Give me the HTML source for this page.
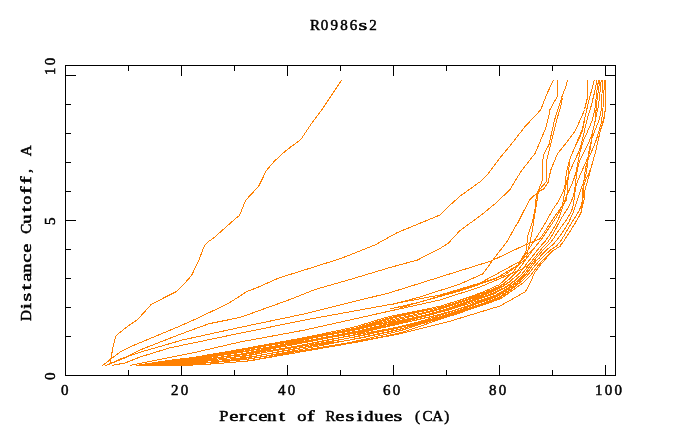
<!DOCTYPE html>
<html><head><meta charset="utf-8">
<style>
html,body{margin:0;padding:0;background:#fff;width:680px;height:440px;overflow:hidden}
.t{position:absolute;font-family:"Liberation Serif",serif;font-weight:normal;-webkit-text-stroke:0.5px #000;font-size:15px;line-height:16px;color:#000;white-space:pre;filter:grayscale(1)}
.t i{font-style:normal;display:inline-block;width:9.7px;text-align:center}
.r{transform:rotate(-90deg);transform-origin:0 0}
svg{position:absolute;left:0;top:0}
</style></head><body>
<svg width="680" height="440" viewBox="0 0 680 440" shape-rendering="crispEdges">
<g stroke="#000" stroke-width="1" fill="none">
<rect x="65.5" y="65.5" width="550" height="310"/>
<path d="M65 75.5H76M65 220.5H76M65 104.5H71M65 133.5H71M65 162.5H71M65 191.5H71M65 249.5H71M65 278.5H71M65 307.5H71M65 336.5H71"/>
<path d="M616 75.5H605M616 220.5H605M616 104.5H610M616 133.5H610M616 162.5H610M616 191.5H610M616 249.5H610M616 278.5H610M616 307.5H610M616 336.5H610"/>
<path d="M181.5 375V365M287.5 375V365M393.5 375V365M499.5 375V365M605.5 375V365M128.5 375V370M234.5 375V370M340.5 375V370M446.5 375V370M552.5 375V370"/>
<path d="M181.5 65V76M287.5 65V76M393.5 65V76M499.5 65V76M605.5 65V76M128.5 65V71M234.5 65V71M340.5 65V71M446.5 65V71M552.5 65V71"/>
</g>
<g stroke="#ff8000" stroke-width="1" fill="none" id="curves">
<path d="M109.8 365.4 L110.8 358.7 L113.4 345.4 L115.4 337.3 L117.0 334.7 L128.7 325.5 L137.0 320.0 L143.2 313.4 L151.5 304.1 L159.7 300.0 L176.4 291.5 L184.5 283.6 L191.5 275.5 L198.2 261.8 L204.5 245.5 L208.2 241.8 L214.5 237.3 L222.7 230.0 L235.1 218.9 L239.5 215.6 L245.5 200.5 L252.4 193.0 L258.9 185.8 L266.5 170.3 L274.0 161.6 L282.7 153.4 L291.3 146.5 L300.6 139.8 L311.6 123.4 L320.4 111.8 L329.3 98.6 L341.7 80.0"/>
<path d="M102.0 365.9 L109.3 360.3 L120.6 351.6 L129.8 347.0 L141.2 342.2 L178.2 326.8 L193.6 320.0 L228.2 303.6 L246.4 291.8 L260.0 286.4 L280.0 277.5 L290.0 274.5 L340.0 258.8 L375.0 245.0 L397.5 232.5 L425.0 221.2 L440.0 215.0 L448.8 206.2 L460.0 196.2 L480.0 181.8 L488.2 173.6 L500.5 157.3 L510.7 145.0 L525.0 126.6 L536.4 114.5 L540.9 109.5 L546.8 94.1 L553.5 80.0"/>
<path d="M105.2 365.7 L125.0 357.8 L140.0 350.0 L178.2 335.0 L209.1 323.7 L240.0 317.5 L290.0 299.5 L315.0 289.5 L352.5 278.8 L390.0 267.5 L417.5 260.0 L440.0 248.4 L448.0 243.6 L460.0 230.5 L481.3 215.0 L495.0 203.8 L509.7 190.0 L520.9 171.6 L535.2 153.2 L545.5 128.6 L549.1 115.0 L550.0 109.5 L557.3 96.4 L557.3 80.0"/>
<path d="M105.5 365.7 L120.6 358.9 L141.2 351.9 L182.4 340.0 L240.0 327.4 L305.0 313.8 L340.0 305.0 L390.0 292.7 L440.0 277.0 L490.9 261.1 L521.1 246.8 L540.0 238.8 L554.7 216.5 L566.6 199.8 L569.5 160.0 L582.0 130.0 L589.0 100.0 L594.4 80.0"/>
<path d="M111.9 365.4 L125.0 363.0 L140.0 357.0 L170.0 347.8 L240.0 333.2 L305.0 320.0 L390.0 304.5 L440.0 295.0 L480.0 283.0 L518.9 262.0 L535.0 248.0"/>
<path d="M130.0 365.4 L140.0 363.5 L195.0 352.4 L240.0 342.0 L305.0 330.0 L390.0 311.0 L440.0 300.0 L480.0 287.0 L520.0 270.0 L540.0 258.0"/>
<path d="M567.5 80.0 L565.5 87.7 L562.5 95.0 L559.0 106.4 L554.5 120.0 L548.9 145.0 L543.2 155.2 L542.0 181.4 L536.4 195.0 L534.9 210.2 L532.5 222.0 L528.2 234.0 L525.9 251.6 L518.0 265.0 L495.0 279.0 L460.0 291.0 L420.0 302.0 L390.0 309.0"/>
<path d="M562.3 97.7 L561.4 104.0 L558.0 115.5 L553.4 133.6 L546.6 161.0 L546.6 181.4 L538.6 190.5 L531.4 235.7 L526.0 259.0 L505.0 275.0 L470.0 287.0 L430.0 299.0 L400.0 308.0"/>
<path d="M587.5 80.0 L587.5 97.7 L584.5 109.5 L582.5 115.0 L575.0 131.2 L562.4 147.8 L557.7 153.2 L550.8 170.0 L547.9 183.0 L543.7 188.9 L539.0 191.3 L534.3 195.4 L529.6 200.1 L523.6 211.4 L518.3 222.0 L514.7 227.7 L506.8 242.0 L495.6 256.3 L482.9 273.8 L460.0 284.0 L420.0 297.0 L390.0 305.0"/>
<path d="M136.0 365.5 L182.0 365.6 L215.0 363.8 L250.0 360.8 L305.0 351.2 L355.0 342.5 L400.0 333.8 L450.0 321.2 L500.0 306.0 L525.4 291.7 L531.0 281.3 L534.2 273.4 L541.3 263.8 L552.5 251.1 L560.5 246.0 L568.6 233.7 L575.5 222.7 L580.9 213.2 L584.0 200.0 L585.0 190.0 L590.0 172.0 L595.5 152.0 L600.0 132.0 L603.5 122.0 L605.6 108.0 L605.6 80.0"/>
<path d="M136.0 365.5 L142.7 364.4 L149.4 363.4 L156.1 362.3 L162.8 361.3 L169.5 360.3 L176.2 359.5 L182.9 358.7 L189.7 358.0 L196.4 357.1 L203.1 356.1 L209.8 355.0 L216.5 353.9 L223.1 352.7 L229.8 351.5 L236.5 350.4 L243.1 349.1 L249.7 347.8 L256.3 346.5 L262.9 345.2 L269.6 344.0 L276.2 342.8 L282.9 341.5 L289.5 340.3 L296.2 339.1 L302.9 337.9 L309.5 336.6 L316.1 335.2 L322.7 333.8 L329.4 332.4 L336.0 331.0 L342.6 329.6 L349.2 328.2 L355.8 326.7 L362.3 324.7 L368.7 322.7 L375.2 320.7 L381.7 318.7 L388.3 316.8 L395.0 315.4 L401.8 314.1 L408.6 312.8 L415.3 311.4 L422.1 310.1 L428.8 308.7 L435.5 307.2 L442.2 305.7 L448.7 303.6 L455.2 301.5 L461.7 299.4 L468.1 297.2 L474.4 295.1 L480.7 292.9 L486.9 290.3 L492.9 287.5 L498.9 284.9 L504.0 280.7 L508.7 276.0 L513.6 271.4 L517.7 266.0 L521.4 260.4 L525.2 254.8 L528.8 249.1 L532.5 243.4 L536.2 237.7 L539.8 232.0 L543.4 226.2 L546.8 220.4 L550.0 214.5 L553.4 208.6 L557.4 202.8 L560.8 196.8 L563.5 190.6 L565.2 184.0 L565.9 177.1 L566.8 170.4 L568.5 163.8 L570.6 157.4 L573.2 151.1 L575.8 144.9 L578.9 138.8 L581.8 132.6 L583.5 126.0 L584.6 119.4 L586.0 112.8 L587.6 106.2 L589.1 99.6 L590.9 93.1 L592.6 86.5 L594.4 80.0"/>
<path d="M136.0 365.5 L142.7 364.5 L149.4 363.4 L156.1 362.4 L162.8 361.4 L169.5 360.3 L176.2 359.5 L182.9 358.7 L189.6 357.9 L196.3 357.0 L203.0 355.8 L209.6 354.5 L216.3 353.4 L222.9 352.3 L229.6 351.2 L236.3 350.0 L243.0 348.9 L249.6 347.6 L256.3 346.4 L262.9 345.2 L269.6 344.0 L276.3 342.9 L283.1 341.8 L289.8 340.8 L296.6 339.7 L303.3 338.6 L310.1 337.3 L316.8 336.1 L323.5 334.7 L330.1 333.4 L336.8 332.0 L343.4 330.7 L350.1 329.2 L356.7 327.8 L363.2 325.8 L369.7 323.8 L376.2 321.8 L382.7 319.9 L389.2 317.9 L395.8 316.2 L402.4 314.7 L409.1 313.3 L415.7 311.8 L422.3 310.3 L428.9 308.8 L435.6 307.2 L442.2 305.7 L448.7 303.6 L455.3 301.6 L462.0 299.6 L468.6 297.6 L475.3 295.6 L481.9 293.5 L488.4 291.1 L494.7 288.4 L500.9 285.6 L506.3 281.5 L511.4 277.0 L516.3 272.3 L520.5 266.9 L524.5 261.3 L528.5 255.8 L532.6 250.3 L536.8 244.9 L541.1 239.7 L545.0 234.1 L548.8 228.4 L552.7 222.7 L556.5 216.9 L560.0 210.9 L562.5 204.6 L563.7 197.8 L564.8 191.0 L566.1 184.3 L567.7 177.7 L570.0 171.3 L572.7 165.0 L575.6 158.7 L578.5 152.4 L580.7 146.0 L582.4 139.5 L584.0 132.9 L585.4 126.4 L587.0 119.7 L588.9 113.2 L591.0 106.6 L592.7 99.9 L594.3 93.3 L595.7 86.7 L597.0 80.0"/>
<path d="M136.0 365.5 L142.7 364.5 L149.4 363.5 L156.1 362.4 L162.8 361.4 L169.5 360.5 L176.3 359.7 L183.0 359.0 L189.8 358.3 L196.6 357.6 L203.3 356.6 L210.0 355.6 L216.7 354.4 L223.4 353.3 L230.1 352.1 L236.7 350.8 L243.3 349.5 L249.9 348.2 L256.5 346.8 L263.1 345.5 L269.7 344.2 L276.3 342.9 L283.0 341.7 L289.7 340.6 L296.4 339.5 L303.2 338.4 L310.0 337.2 L316.7 336.0 L323.5 334.8 L330.3 333.6 L337.0 332.3 L343.8 331.1 L350.5 329.7 L357.2 328.3 L363.7 326.4 L370.3 324.5 L376.8 322.6 L383.4 320.7 L389.9 318.7 L396.5 317.1 L403.2 315.6 L409.9 314.1 L416.5 312.6 L423.2 311.1 L429.9 309.6 L436.6 308.1 L443.4 306.5 L450.0 304.5 L456.7 302.5 L463.4 300.5 L470.0 298.4 L476.6 296.3 L483.1 294.2 L489.3 291.6 L495.3 288.7 L501.3 285.7 L506.6 281.6 L511.5 277.0 L516.4 272.3 L520.5 266.9 L524.5 261.3 L528.5 255.8 L532.6 250.3 L536.8 244.9 L541.1 239.7 L545.0 234.1 L548.8 228.4 L552.7 222.7 L556.5 216.9 L560.0 210.9 L562.5 204.6 L563.7 197.8 L564.8 191.0 L566.1 184.3 L567.7 177.7 L570.0 171.3 L572.7 165.0 L575.6 158.7 L578.5 152.4 L580.7 146.0 L582.4 139.5 L584.0 132.9 L585.4 126.4 L587.0 119.7 L588.9 113.2 L591.0 106.6 L592.7 99.9 L594.3 93.3 L595.7 86.7 L597.0 80.0"/>
<path d="M136.0 365.5 L142.7 364.5 L149.4 363.5 L156.1 362.6 L162.8 361.6 L169.6 360.5 L176.3 359.7 L183.0 358.9 L189.7 358.1 L196.5 357.3 L203.1 356.2 L209.8 355.1 L216.5 354.0 L223.3 353.0 L230.0 351.9 L236.7 350.9 L243.4 349.9 L250.2 348.7 L256.9 347.6 L263.6 346.5 L270.4 345.3 L277.1 344.2 L283.8 343.1 L290.6 341.9 L297.3 340.8 L304.1 339.6 L310.8 338.3 L317.5 337.0 L324.2 335.7 L330.9 334.3 L337.5 333.0 L344.2 331.6 L350.9 330.2 L357.6 328.8 L364.2 326.9 L370.8 325.2 L377.5 323.4 L384.2 321.7 L390.9 319.9 L397.7 318.4 L404.5 316.9 L411.2 315.4 L417.9 313.9 L424.6 312.3 L431.2 310.7 L437.8 309.0 L444.3 307.2 L450.8 305.1 L457.3 302.9 L463.8 300.8 L470.3 298.7 L476.9 296.6 L483.6 294.5 L490.1 292.0 L496.5 289.2 L502.8 286.3 L508.5 282.3 L514.0 277.9 L519.2 273.3 L523.6 267.9 L527.7 262.3 L532.0 256.9 L536.3 251.5 L540.6 246.2 L545.1 241.3 L549.0 235.7 L552.7 229.9 L556.1 223.9 L558.9 217.7 L561.3 211.4 L563.4 204.9 L565.5 198.4 L568.3 192.2 L571.1 185.9 L573.7 179.5 L575.8 173.0 L577.3 166.2 L578.5 159.5 L579.9 152.8 L581.6 146.2 L583.8 139.8 L586.7 133.4 L589.5 127.0 L592.1 120.5 L593.9 113.8 L595.2 107.1 L595.9 100.2 L596.6 93.5 L597.5 86.7 L598.6 80.0"/>
<path d="M136.0 365.5 L142.7 364.6 L149.5 363.7 L156.2 362.8 L163.0 361.9 L169.7 361.0 L176.5 360.3 L183.3 359.7 L190.1 358.9 L196.8 358.1 L203.5 357.1 L210.2 356.0 L216.9 354.8 L223.6 353.7 L230.3 352.5 L236.9 351.3 L243.6 350.1 L250.2 348.9 L256.9 347.6 L263.6 346.3 L270.2 345.1 L276.9 343.9 L283.7 342.8 L290.4 341.6 L297.2 340.5 L303.9 339.4 L310.7 338.2 L317.5 337.0 L324.2 335.7 L331.0 334.5 L337.8 333.3 L344.5 332.0 L351.3 330.7 L358.1 329.4 L364.8 327.7 L371.5 326.0 L378.3 324.3 L385.1 322.7 L391.8 321.0 L398.6 319.4 L405.4 317.9 L412.1 316.4 L418.8 314.8 L425.5 313.1 L432.1 311.4 L438.6 309.6 L445.1 307.8 L451.6 305.6 L458.0 303.4 L464.5 301.3 L471.1 299.1 L477.7 297.0 L484.3 294.9 L490.8 292.4 L497.0 289.4 L503.3 286.5 L508.9 282.4 L514.2 278.0 L519.3 273.3 L523.6 267.9 L527.7 262.3 L532.0 256.9 L536.3 251.5 L540.6 246.2 L545.1 241.3 L549.0 235.7 L552.7 229.9 L556.1 223.9 L558.9 217.7 L561.3 211.4 L563.4 204.9 L565.5 198.4 L568.3 192.2 L571.1 185.9 L573.7 179.5 L575.8 173.0 L577.3 166.2 L578.5 159.5 L579.9 152.8 L581.6 146.2 L583.8 139.8 L586.7 133.4 L589.5 127.0 L592.1 120.5 L593.9 113.8 L595.2 107.1 L595.9 100.2 L596.6 93.5 L597.5 86.7 L598.6 80.0"/>
<path d="M136.0 365.5 L142.8 364.6 L149.5 363.8 L156.3 362.9 L163.0 362.0 L169.7 361.0 L176.5 360.3 L183.2 359.6 L190.0 358.8 L196.8 358.0 L203.5 357.0 L210.3 356.1 L217.1 355.2 L223.9 354.3 L230.7 353.4 L237.5 352.6 L244.3 351.6 L251.1 350.5 L257.8 349.3 L264.5 348.1 L271.2 346.8 L277.9 345.5 L284.5 344.2 L291.2 342.8 L297.8 341.4 L304.3 340.0 L310.9 338.5 L317.5 337.0 L324.1 335.6 L330.8 334.2 L337.4 332.8 L344.1 331.5 L350.9 330.3 L357.8 329.1 L364.6 327.5 L371.5 326.0 L378.5 324.6 L385.5 323.3 L392.6 321.9 L399.6 320.5 L406.6 319.2 L413.5 317.7 L420.3 316.1 L427.0 314.5 L433.6 312.7 L440.1 310.8 L446.5 308.9 L452.9 306.6 L459.2 304.3 L465.7 302.0 L472.3 299.8 L478.9 297.7 L485.7 295.7 L492.4 293.3 L498.9 290.3 L505.3 287.2 L511.1 283.2 L516.7 278.9 L521.8 274.1 L526.1 268.7 L530.2 263.1 L534.4 257.7 L538.7 252.4 L543.0 247.1 L547.7 242.3 L551.4 236.6 L554.8 230.7 L558.0 224.6 L561.2 218.6 L564.9 212.7 L568.7 206.8 L571.7 200.5 L573.9 194.0 L575.0 187.1 L575.9 180.2 L576.8 173.3 L578.1 166.4 L580.1 159.9 L583.1 153.6 L586.4 147.3 L589.4 140.9 L591.9 134.4 L593.6 127.7 L595.0 120.9 L595.6 114.1 L596.4 107.2 L597.0 100.4 L597.9 93.6 L598.9 86.8 L599.8 80.0"/>
<path d="M136.0 365.5 L142.8 364.7 L149.5 363.9 L156.3 363.0 L163.1 362.2 L169.8 361.3 L176.6 360.7 L183.4 360.0 L190.2 359.2 L196.9 358.4 L203.7 357.4 L210.4 356.3 L217.1 355.3 L223.9 354.3 L230.6 353.3 L237.4 352.3 L244.1 351.2 L250.9 350.1 L257.6 348.9 L264.4 347.8 L271.1 346.6 L277.9 345.5 L284.7 344.4 L291.5 343.2 L298.2 342.1 L305.0 341.0 L311.8 339.8 L318.6 338.5 L325.3 337.2 L332.1 335.9 L338.9 334.7 L345.6 333.4 L352.4 332.0 L359.2 330.7 L365.9 329.0 L372.7 327.4 L379.6 325.9 L386.5 324.3 L393.3 322.8 L400.2 321.2 L407.1 319.8 L414.0 318.2 L420.8 316.6 L427.5 314.9 L434.2 313.1 L440.7 311.3 L447.3 309.4 L453.7 307.2 L460.2 304.9 L466.6 302.6 L473.2 300.4 L479.7 298.2 L486.4 296.0 L492.9 293.6 L499.2 290.4 L505.4 287.2 L511.2 283.2 L516.7 278.9 L521.8 274.1 L526.1 268.7 L530.2 263.1 L534.4 257.7 L538.7 252.4 L543.0 247.1 L547.7 242.3 L551.4 236.6 L554.8 230.7 L558.0 224.6 L561.2 218.6 L564.9 212.7 L568.7 206.8 L571.7 200.5 L573.9 194.0 L575.0 187.1 L575.9 180.2 L576.8 173.3 L578.1 166.4 L580.1 159.9 L583.1 153.6 L586.4 147.3 L589.4 140.9 L591.9 134.4 L593.6 127.7 L595.0 120.9 L595.6 114.1 L596.4 107.2 L597.0 100.4 L597.9 93.6 L598.9 86.8 L599.8 80.0"/>
<path d="M136.0 365.5 L142.8 364.7 L149.6 364.0 L156.4 363.3 L163.2 362.5 L170.0 361.8 L176.8 361.3 L183.6 360.6 L190.5 359.9 L197.3 359.2 L204.0 358.2 L210.8 357.2 L217.5 356.1 L224.2 355.0 L230.9 354.0 L237.7 352.9 L244.4 351.8 L251.1 350.6 L257.9 349.4 L264.6 348.2 L271.4 347.0 L278.1 345.9 L284.9 344.8 L291.7 343.7 L298.6 342.6 L305.4 341.5 L312.2 340.3 L319.0 339.1 L325.8 337.9 L332.7 336.6 L339.4 335.4 L346.2 334.1 L353.0 332.8 L359.8 331.4 L366.5 329.7 L373.3 328.1 L380.1 326.5 L386.9 324.9 L393.7 323.2 L400.5 321.6 L407.3 320.0 L414.1 318.4 L420.9 316.7 L427.6 315.0 L434.2 313.2 L440.8 311.4 L447.4 309.5 L453.9 307.4 L460.5 305.1 L467.1 302.9 L473.7 300.7 L480.4 298.6 L487.1 296.4 L493.6 294.0 L499.8 290.7 L506.0 287.4 L511.6 283.4 L517.0 279.0 L522.0 274.2 L526.2 268.7 L530.2 263.1 L534.4 257.7 L538.7 252.4 L543.0 247.1 L547.7 242.3 L551.4 236.6 L554.8 230.7 L558.0 224.6 L561.2 218.6 L564.9 212.7 L568.7 206.8 L571.7 200.5 L573.9 194.0 L575.0 187.1 L575.9 180.2 L576.8 173.3 L578.1 166.4 L580.1 159.9 L583.1 153.6 L586.4 147.3 L589.4 140.9 L591.9 134.4 L593.6 127.7 L595.0 120.9 L595.6 114.1 L596.4 107.2 L597.0 100.4 L597.9 93.6 L598.9 86.8 L599.8 80.0"/>
<path d="M136.0 365.5 L142.8 364.8 L149.6 364.1 L156.4 363.4 L163.2 362.7 L170.1 362.0 L176.9 361.5 L183.8 361.0 L190.6 360.4 L197.5 359.8 L204.4 359.0 L211.2 358.3 L218.0 357.4 L224.8 356.4 L231.6 355.4 L238.4 354.4 L245.1 353.2 L251.8 351.9 L258.5 350.5 L265.1 349.1 L271.8 347.8 L278.5 346.5 L285.2 345.2 L292.0 344.0 L298.7 342.8 L305.5 341.7 L312.4 340.5 L319.2 339.3 L326.1 338.2 L333.0 337.0 L339.8 335.9 L346.7 334.7 L353.5 333.4 L360.4 332.1 L367.2 330.5 L374.0 329.0 L380.9 327.4 L387.7 325.8 L394.4 324.1 L401.2 322.4 L408.0 320.7 L414.7 319.0 L421.4 317.2 L428.1 315.5 L434.8 313.7 L441.5 311.9 L448.2 310.1 L454.9 308.0 L461.6 305.9 L468.4 303.8 L475.3 301.7 L482.1 299.6 L489.0 297.5 L495.7 295.1 L501.8 291.6 L507.8 288.1 L513.4 284.0 L518.9 279.7 L523.7 274.8 L527.9 269.2 L531.8 263.6 L536.1 258.2 L540.5 253.0 L545.0 247.8 L550.0 243.2 L554.0 237.7 L557.8 231.9 L561.9 226.1 L566.0 220.4 L569.8 214.4 L572.6 208.1 L573.9 201.2 L574.7 194.3 L575.7 187.4 L577.7 180.8 L580.4 174.3 L583.3 167.9 L586.2 161.5 L588.7 154.9 L590.4 148.2 L591.5 141.3 L592.3 134.4 L593.5 127.7 L595.2 121.0 L596.6 114.2 L598.2 107.4 L599.1 100.6 L599.9 93.7 L600.5 86.9 L601.2 80.0"/>
<path d="M136.0 365.5 L142.8 364.9 L149.7 364.3 L156.5 363.6 L163.4 363.0 L170.2 362.5 L177.1 362.0 L184.0 361.5 L190.9 360.9 L197.7 360.3 L204.6 359.5 L211.4 358.7 L218.2 357.8 L225.0 356.8 L231.8 355.9 L238.6 354.9 L245.4 353.9 L252.2 352.6 L258.9 351.3 L265.6 350.0 L272.3 348.7 L279.1 347.4 L285.8 346.2 L292.5 344.9 L299.3 343.6 L306.0 342.3 L312.7 341.0 L319.4 339.7 L326.2 338.3 L332.9 337.0 L339.7 335.7 L346.4 334.4 L353.2 333.1 L360.1 331.8 L366.9 330.2 L373.8 328.7 L380.8 327.3 L387.8 325.9 L394.8 324.5 L401.8 323.1 L408.9 321.7 L415.9 320.2 L422.9 318.6 L429.8 317.0 L436.7 315.3 L443.5 313.4 L450.2 311.6 L456.9 309.4 L463.5 307.2 L470.0 304.9 L476.6 302.6 L483.2 300.3 L489.8 298.0 L496.2 295.4 L502.2 291.8 L508.1 288.2 L513.6 284.0 L519.0 279.7 L523.8 274.8 L527.9 269.3 L531.8 263.6 L536.1 258.2 L540.5 253.0 L545.0 247.8 L550.0 243.2 L554.0 237.7 L557.8 231.9 L561.9 226.1 L566.0 220.4 L569.8 214.4 L572.6 208.1 L573.9 201.2 L574.7 194.3 L575.7 187.4 L577.7 180.8 L580.4 174.3 L583.3 167.9 L586.2 161.5 L588.7 154.9 L590.4 148.2 L591.5 141.3 L592.3 134.4 L593.5 127.7 L595.2 121.0 L596.6 114.2 L598.2 107.4 L599.1 100.6 L599.9 93.7 L600.5 86.9 L601.2 80.0"/>
<path d="M136.0 365.5 L142.9 364.9 L149.7 364.4 L156.6 363.8 L163.4 363.2 L170.3 362.6 L177.1 362.1 L184.0 361.6 L190.8 360.9 L197.7 360.2 L204.5 359.3 L211.3 358.5 L218.1 357.6 L225.0 356.7 L231.8 355.9 L238.7 355.1 L245.6 354.3 L252.5 353.2 L259.3 352.1 L266.2 351.0 L273.1 350.0 L279.9 348.9 L286.8 347.7 L293.7 346.6 L300.5 345.4 L307.3 344.2 L314.1 343.0 L320.9 341.6 L327.7 340.3 L334.4 338.9 L341.1 337.5 L347.8 336.1 L354.5 334.6 L361.2 333.1 L367.9 331.3 L374.6 329.6 L381.4 328.0 L388.2 326.5 L395.1 324.9 L402.0 323.2 L408.9 321.7 L415.8 320.1 L422.7 318.4 L429.6 316.8 L436.5 315.1 L443.3 313.3 L450.1 311.5 L456.9 309.4 L463.6 307.3 L470.5 305.1 L477.3 303.0 L484.1 300.8 L490.9 298.6 L497.5 296.1 L503.5 292.4 L509.3 288.7 L514.9 284.5 L520.4 280.2 L525.2 275.3 L529.4 269.7 L533.6 264.1 L538.1 258.8 L542.8 253.7 L547.7 248.8 L553.2 244.5 L557.6 239.1 L561.8 233.4 L565.7 227.6 L569.1 221.5 L572.0 215.2 L574.5 208.8 L576.5 202.1 L578.9 195.6 L580.9 189.1 L583.5 182.5 L585.6 175.8 L586.9 168.9 L587.7 161.9 L588.5 154.9 L589.5 148.0 L591.1 141.2 L593.3 134.6 L595.9 128.0 L598.7 121.5 L600.3 114.7 L601.5 107.8 L601.7 100.8 L602.0 93.9 L602.4 86.9 L603.0 80.0"/>
<path d="M136.0 365.5 L142.9 365.0 L149.8 364.5 L156.6 364.0 L163.5 363.4 L170.4 362.9 L177.3 362.5 L184.2 362.0 L191.0 361.4 L197.9 360.8 L204.9 360.2 L211.8 359.6 L218.7 358.9 L225.6 358.2 L232.6 357.4 L239.5 356.7 L246.4 355.9 L253.2 354.7 L260.0 353.5 L266.8 352.1 L273.6 350.8 L280.3 349.4 L287.0 348.0 L293.7 346.7 L300.4 345.3 L307.1 343.9 L313.9 342.6 L320.6 341.2 L327.4 339.9 L334.2 338.7 L341.1 337.5 L348.0 336.3 L354.9 335.1 L361.9 333.9 L368.9 332.5 L375.9 331.2 L383.0 329.9 L390.1 328.6 L397.1 327.2 L404.0 325.6 L410.9 323.8 L417.7 322.0 L424.5 320.1 L431.1 318.1 L437.7 316.1 L444.2 314.0 L450.7 311.9 L457.2 309.7 L463.7 307.3 L470.3 305.0 L477.0 302.8 L483.8 300.6 L490.6 298.4 L497.3 295.9 L503.3 292.3 L509.3 288.7 L515.0 284.5 L520.5 280.2 L525.3 275.3 L529.5 269.8 L533.6 264.1 L538.1 258.8 L542.8 253.7 L547.7 248.8 L553.2 244.5 L557.6 239.1 L561.8 233.4 L565.7 227.6 L569.1 221.5 L572.0 215.2 L574.5 208.8 L576.5 202.1 L578.9 195.6 L580.9 189.1 L583.5 182.5 L585.6 175.8 L586.9 168.9 L587.7 161.9 L588.5 154.9 L589.5 148.0 L591.1 141.2 L593.3 134.6 L595.9 128.0 L598.7 121.5 L600.3 114.7 L601.5 107.8 L601.7 100.8 L602.0 93.9 L602.4 86.9 L603.0 80.0"/>
<path d="M136.0 365.5 L142.9 365.1 L149.8 364.7 L156.7 364.2 L163.6 363.8 L170.5 363.4 L177.4 363.0 L184.4 362.5 L191.2 361.9 L198.1 361.3 L205.0 360.5 L211.9 359.7 L218.7 358.9 L225.6 358.0 L232.4 357.2 L239.3 356.3 L246.2 355.5 L253.0 354.4 L259.9 353.2 L266.7 352.0 L273.6 350.9 L280.5 349.7 L287.3 348.6 L294.2 347.5 L301.1 346.3 L308.0 345.2 L314.9 344.0 L321.8 342.8 L328.7 341.6 L335.6 340.4 L342.5 339.2 L349.4 338.0 L356.2 336.7 L363.1 335.4 L370.0 333.9 L377.0 332.4 L383.9 331.0 L390.9 329.6 L397.9 328.1 L404.8 326.4 L411.6 324.6 L418.5 322.8 L425.3 320.9 L432.0 319.0 L438.7 317.0 L445.3 314.9 L451.9 312.8 L458.5 310.6 L465.0 308.2 L471.5 305.8 L478.0 303.4 L484.6 301.1 L491.2 298.8 L497.7 296.1 L503.5 292.4 L509.4 288.7 L514.9 284.5 L520.4 280.2 L525.2 275.3 L529.5 269.8 L533.6 264.1 L538.1 258.8 L542.8 253.7 L547.7 248.8 L553.2 244.5 L557.6 239.1 L561.8 233.4 L565.7 227.6 L569.1 221.5 L572.0 215.2 L574.5 208.8 L576.5 202.1 L578.9 195.6 L580.9 189.1 L583.5 182.5 L585.6 175.8 L586.9 168.9 L587.7 161.9 L588.5 154.9 L589.5 148.0 L591.1 141.2 L593.3 134.6 L595.9 128.0 L598.7 121.5 L600.3 114.7 L601.5 107.8 L601.7 100.8 L602.0 93.9 L602.4 86.9 L603.0 80.0"/>
<path d="M136.0 365.5 L142.9 365.1 L149.9 364.8 L156.8 364.4 L163.7 364.0 L170.6 363.6 L177.6 363.3 L184.5 362.9 L191.4 362.4 L198.4 361.8 L205.3 361.2 L212.3 360.7 L219.2 360.0 L226.2 359.3 L233.1 358.7 L240.1 358.0 L247.1 357.3 L254.0 356.3 L260.9 355.1 L267.8 353.9 L274.7 352.7 L281.5 351.5 L288.4 350.2 L295.2 349.0 L302.0 347.7 L308.8 346.3 L315.6 344.9 L322.3 343.5 L329.1 342.1 L335.8 340.7 L342.6 339.3 L349.3 337.9 L356.1 336.5 L362.9 335.0 L369.7 333.4 L376.6 331.9 L383.5 330.5 L390.5 329.1 L397.5 327.7 L404.5 326.0 L411.5 324.4 L418.5 322.8 L425.5 321.1 L432.4 319.3 L439.3 317.5 L446.2 315.6 L453.0 313.6 L459.8 311.5 L466.4 309.2 L473.1 306.9 L479.7 304.5 L486.3 302.1 L492.8 299.7 L499.2 297.0 L505.0 293.1 L510.7 289.2 L516.3 285.0 L522.0 280.8 L527.0 275.9 L531.3 270.4 L535.7 264.8 L540.5 259.6 L545.6 254.6 L550.7 249.8 L556.6 245.9 L561.0 240.5 L564.7 234.6 L568.2 228.5 L571.8 222.5 L575.7 216.5 L579.3 210.5 L581.7 203.9 L583.1 197.0 L583.2 189.8 L583.8 182.6 L584.5 175.5 L585.5 168.5 L587.3 161.7 L589.9 155.2 L592.8 148.7 L595.5 142.1 L597.7 135.4 L599.6 128.6 L601.5 121.9 L602.2 114.9 L603.0 108.0 L603.3 101.0 L603.8 94.0 L604.2 87.0 L604.5 80.0"/>
<path d="M136.0 365.5 L143.0 365.2 L149.9 364.9 L156.9 364.7 L163.8 364.4 L170.8 364.1 L177.8 363.9 L184.8 363.7 L191.8 363.3 L198.8 362.8 L205.8 362.4 L212.8 361.9 L219.8 361.2 L226.7 360.5 L233.6 359.7 L240.5 358.8 L247.4 357.9 L254.2 356.6 L261.0 355.2 L267.8 353.9 L274.6 352.5 L281.4 351.2 L288.2 350.0 L295.1 348.7 L302.0 347.6 L308.9 346.5 L315.9 345.3 L322.8 344.2 L329.8 343.1 L336.8 342.1 L343.8 341.0 L350.8 339.8 L357.8 338.6 L364.7 337.2 L371.6 335.7 L378.5 334.3 L385.4 332.7 L392.2 331.2 L399.0 329.5 L405.7 327.4 L412.3 325.3 L419.0 323.3 L425.6 321.3 L432.3 319.2 L439.0 317.2 L445.7 315.2 L452.4 313.2 L459.2 311.1 L466.0 308.9 L472.8 306.7 L479.6 304.4 L486.4 302.2 L493.1 299.8 L499.6 297.2 L505.4 293.3 L511.1 289.3 L516.7 285.1 L522.2 280.9 L527.1 275.9 L531.4 270.4 L535.7 264.8 L540.5 259.6 L545.6 254.6 L550.7 249.8 L556.6 245.9 L561.0 240.5 L564.7 234.6 L568.2 228.5 L571.8 222.5 L575.7 216.5 L579.3 210.5 L581.7 203.9 L583.1 197.0 L583.2 189.8 L583.8 182.6 L584.5 175.5 L585.5 168.5 L587.3 161.7 L589.9 155.2 L592.8 148.7 L595.5 142.1 L597.7 135.4 L599.6 128.6 L601.5 121.9 L602.2 114.9 L603.0 108.0 L603.3 101.0 L603.8 94.0 L604.2 87.0 L604.5 80.0"/>
<path d="M136.0 365.5 L143.0 365.3 L150.0 365.1 L157.0 364.9 L164.0 364.8 L171.0 364.6 L178.0 364.5 L185.0 364.2 L192.0 363.8 L199.0 363.4 L206.1 363.0 L213.1 362.6 L220.1 361.9 L227.1 361.3 L234.0 360.6 L241.0 359.9 L248.0 359.2 L254.9 358.0 L261.8 356.8 L268.7 355.5 L275.5 354.2 L282.4 352.9 L289.3 351.6 L296.1 350.3 L303.0 349.0 L309.8 347.7 L316.6 346.4 L323.5 345.1 L330.3 343.7 L337.1 342.4 L343.9 341.1 L350.8 339.8 L357.6 338.3 L364.4 336.9 L371.3 335.3 L378.2 333.8 L385.1 332.4 L392.0 330.9 L398.9 329.4 L405.8 327.5 L412.7 325.7 L419.5 323.9 L426.4 322.0 L433.3 320.1 L440.1 318.1 L446.9 316.2 L453.8 314.2 L460.5 312.1 L467.2 309.7 L473.9 307.4 L480.6 305.0 L487.2 302.6 L493.7 300.2 L500.1 297.5 L505.7 293.4 L511.3 289.4 L516.8 285.2 L522.3 280.9 L527.2 275.9 L531.4 270.4 L535.7 264.8 L540.5 259.6 L545.6 254.6 L550.7 249.8 L556.6 245.9 L561.0 240.5 L564.7 234.6 L568.2 228.5 L571.8 222.5 L575.7 216.5 L579.3 210.5 L581.7 203.9 L583.1 197.0 L583.2 189.8 L583.8 182.6 L584.5 175.5 L585.5 168.5 L587.3 161.7 L589.9 155.2 L592.8 148.7 L595.5 142.1 L597.7 135.4 L599.6 128.6 L601.5 121.9 L602.2 114.9 L603.0 108.0 L603.3 101.0 L603.8 94.0 L604.2 87.0 L604.5 80.0"/>
<path d="M136.0 365.5 L143.0 365.4 L150.0 365.3 L157.1 365.2 L164.1 365.1 L171.1 365.0 L178.1 364.9 L185.1 364.6 L192.1 364.1 L199.1 363.6 L206.1 363.0 L213.0 362.4 L220.0 361.7 L226.9 361.0 L233.9 360.3 L240.9 359.6 L247.9 359.0 L254.9 357.9 L261.8 356.8 L268.8 355.7 L275.8 354.6 L282.8 353.5 L289.8 352.4 L296.8 351.4 L303.8 350.3 L310.8 349.2 L317.8 348.0 L324.8 346.8 L331.7 345.6 L338.7 344.4 L345.6 343.2 L352.5 341.9 L359.3 340.4 L366.1 338.9 L372.9 337.3 L379.7 335.7 L386.5 334.1 L393.3 332.5 L400.1 330.8 L406.8 328.6 L413.4 326.5 L420.1 324.4 L426.8 322.4 L433.6 320.3 L440.3 318.3 L447.1 316.3 L453.8 314.3 L460.6 312.1 L467.4 309.8 L474.2 307.6 L481.0 305.3 L487.8 303.0 L494.6 300.7 L501.2 298.1 L507.1 294.0 L512.9 290.0 L518.8 285.9 L524.6 281.7 L529.5 276.7 L533.8 271.1 L538.1 265.5 L542.8 260.3 L547.9 255.4 L553.1 250.7 L559.1 246.9 L563.5 241.5 L567.4 235.6 L571.2 229.6 L574.9 223.6 L578.4 217.5 L581.4 211.2 L582.2 204.0 L582.4 196.8 L582.6 189.6 L584.6 182.8 L587.3 176.3 L590.4 169.8 L592.4 163.1 L594.3 156.3 L596.1 149.4 L597.6 142.6 L599.2 135.7 L600.7 128.8 L602.9 122.1 L604.3 115.2 L605.6 108.2 L605.6 101.2 L605.6 94.1 L605.6 87.1 L605.6 80.0"/>
<path d="M136.0 365.5 L143.0 365.5 L150.1 365.4 L157.1 365.4 L164.2 365.3 L171.2 365.3 L178.3 365.3 L185.3 365.1 L192.4 364.8 L199.5 364.4 L206.5 364.1 L213.6 363.9 L220.7 363.3 L227.7 362.7 L234.8 362.1 L241.8 361.5 L248.8 360.9 L255.7 359.6 L262.6 358.3 L269.5 356.9 L276.3 355.5 L283.2 354.2 L290.0 352.8 L296.9 351.5 L303.8 350.3 L310.7 349.0 L317.7 347.9 L324.7 346.7 L331.7 345.6 L338.8 344.6 L345.9 343.5 L353.0 342.5 L360.0 341.2 L367.0 339.9 L374.0 338.5 L380.9 337.0 L387.8 335.6 L394.7 334.1 L401.6 332.5 L408.3 330.4 L414.9 328.1 L421.5 325.8 L428.0 323.5 L434.6 321.2 L441.1 319.0 L447.8 316.8 L454.4 314.7 L461.1 312.5 L467.8 310.1 L474.5 307.8 L481.3 305.5 L488.1 303.2 L494.9 300.8 L501.5 298.2 L507.3 294.2 L513.1 290.0 L518.9 285.9 L524.6 281.7 L529.5 276.7 L533.8 271.1 L538.1 265.5 L542.8 260.3 L547.9 255.4 L553.1 250.7 L559.1 246.9 L563.5 241.5 L567.4 235.6 L571.2 229.6 L574.9 223.6 L578.4 217.5 L581.4 211.2 L582.2 204.0 L582.4 196.8 L582.6 189.6 L584.6 182.8 L587.3 176.3 L590.4 169.8 L592.4 163.1 L594.3 156.3 L596.1 149.4 L597.6 142.6 L599.2 135.7 L600.7 128.8 L602.9 122.1 L604.3 115.2 L605.6 108.2 L605.6 101.2 L605.6 94.1 L605.6 87.1 L605.6 80.0"/>
</g>
</svg>
<!--text-->
<div class="t " style="left:310px;top:17px"><i style="transform:scaleX(1.00)">R</i><i style="transform:scaleX(1.00)">0</i><i style="transform:scaleX(1.00)">9</i><i style="transform:scaleX(1.00)">8</i><i style="transform:scaleX(1.00)">6</i><i style="transform:scaleX(1.50)">s</i><i style="transform:scaleX(1.00)">2</i></div>
<div class="t " style="left:219px;top:408px"><i style="transform:scaleX(1.10)">P</i><i style="transform:scaleX(1.38)">e</i><i style="transform:scaleX(1.50)">r</i><i style="transform:scaleX(1.38)">c</i><i style="transform:scaleX(1.38)">e</i><i style="transform:scaleX(1.23)">n</i><i style="transform:scaleX(1.50)">t</i><i>&nbsp;</i><i style="transform:scaleX(1.23)">o</i><i style="transform:scaleX(1.50)">f</i><i>&nbsp;</i><i style="transform:scaleX(1.00)">R</i><i style="transform:scaleX(1.38)">e</i><i style="transform:scaleX(1.50)">s</i><i style="transform:scaleX(1.50)">i</i><i style="transform:scaleX(1.23)">d</i><i style="transform:scaleX(1.23)">u</i><i style="transform:scaleX(1.38)">e</i><i style="transform:scaleX(1.50)">s</i><i>&nbsp;</i><i style="transform:scaleX(1.00)">(</i><i style="transform:scaleX(1.00)">C</i><i style="transform:scaleX(1.00)">A</i><i style="transform:scaleX(1.00)">)</i></div>
<div class="t " style="left:60px;top:382px"><i style="transform:scaleX(1.00)">0</i></div>
<div class="t " style="left:170px;top:382px"><i style="transform:scaleX(1.00)">2</i><i style="transform:scaleX(1.00)">0</i></div>
<div class="t " style="left:277px;top:382px"><i style="transform:scaleX(1.00)">4</i><i style="transform:scaleX(1.00)">0</i></div>
<div class="t " style="left:382px;top:382px"><i style="transform:scaleX(1.00)">6</i><i style="transform:scaleX(1.00)">0</i></div>
<div class="t " style="left:488px;top:382px"><i style="transform:scaleX(1.00)">8</i><i style="transform:scaleX(1.00)">0</i></div>
<div class="t " style="left:594px;top:382px"><i style="transform:scaleX(1.00)">1</i><i style="transform:scaleX(1.00)">0</i><i style="transform:scaleX(1.00)">0</i></div>
<div class="t r" style="left:18px;top:320.5px"><i style="transform:scaleX(1.00)">D</i><i style="transform:scaleX(1.50)">i</i><i style="transform:scaleX(1.50)">s</i><i style="transform:scaleX(1.50)">t</i><i style="transform:scaleX(1.38)">a</i><i style="transform:scaleX(1.23)">n</i><i style="transform:scaleX(1.38)">c</i><i style="transform:scaleX(1.38)">e</i><i>&nbsp;</i><i style="transform:scaleX(1.00)">C</i><i style="transform:scaleX(1.23)">u</i><i style="transform:scaleX(1.50)">t</i><i style="transform:scaleX(1.23)">o</i><i style="transform:scaleX(1.50)">f</i><i style="transform:scaleX(1.50)">f</i><i style="transform:scaleX(1.00)">,</i><i>&nbsp;</i><i style="transform:scaleX(1.00)">A</i></div>
<div class="t r" style="left:42px;top:76px"><i style="transform:scaleX(1.00)">1</i><i style="transform:scaleX(1.00)">0</i></div>
<div class="t r" style="left:42px;top:226px"><i style="transform:scaleX(1.00)">5</i></div>
<div class="t r" style="left:42px;top:381px"><i style="transform:scaleX(1.00)">0</i></div>
</body></html>
